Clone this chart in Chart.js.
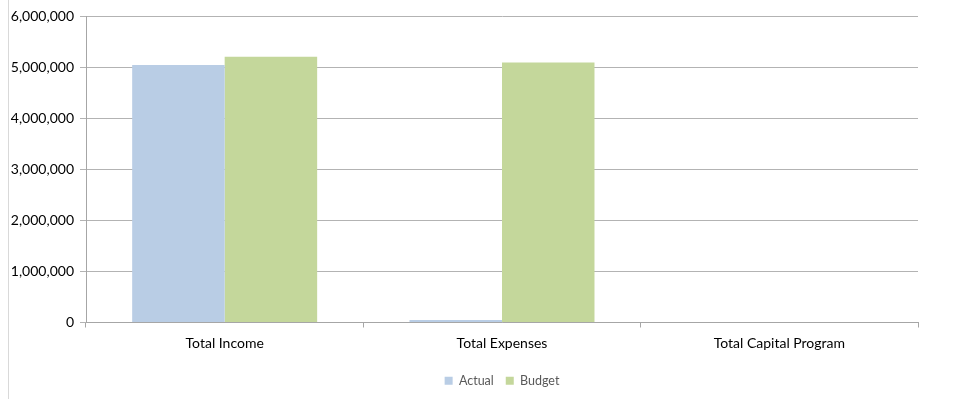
<!DOCTYPE html>
<html>
<head>
<meta charset="utf-8">
<script src="https://cdn.jsdelivr.net/npm/chart.js@4"></script>
<style>
  html, body { margin: 0; padding: 0; background: #fff; }
  #wrap { width: 979px; height: 399px; position: relative; }
</style>
</head>
<body>
<div id="wrap"><canvas id="budgetChart"></canvas></div>
<script>
const categories = ["Total Income", "Total Expenses", "Total Capital Program"];
const actual = [5040000, 50000, 0];
const budget = [5200000, 5090000, 0];

const blue = "#b9cde5";
const green = "#c4d79b";

// thin grey rule down the left edge of the sheet
const edgeLine = {
  id: "edgeLine",
  beforeDraw(chart) {
    const ctx = chart.ctx;
    ctx.save();
    ctx.strokeStyle = "#d9d9d9";
    ctx.lineWidth = 1;
    ctx.beginPath();
    ctx.moveTo(8.5, 0);
    ctx.lineTo(8.5, chart.height);
    ctx.stroke();
    ctx.restore();
  },
};

// centre the legend under the plot area instead of the whole canvas
const legendUnderPlot = {
  id: "legendUnderPlot",
  afterLayout(chart) {
    const lg = chart.legend;
    if (!lg) return;
    const shift = (chart.chartArea.left + chart.chartArea.right) / 2 - (lg.left + lg.right) / 2;
    lg.left += shift;
    lg.right += shift;
  },
};

Chart.defaults.font.family = "Lato, 'Open Sans', sans-serif";

new Chart(document.getElementById("budgetChart"), {
  type: "bar",
  data: {
    labels: categories,
    datasets: [
      { label: "Actual", data: actual, backgroundColor: blue, categoryPercentage: 0.667, barPercentage: 1 },
      { label: "Budget", data: budget, backgroundColor: green, categoryPercentage: 0.667, barPercentage: 1 },
    ],
  },
  options: {
    responsive: true,
    maintainAspectRatio: false,
    animation: false,
    layout: { padding: { left: 10, right: 61, top: 16, bottom: 2 } },
    scales: {
      x: {
        afterFit(scale) { scale.height = 40; },
        grid: { offset: true, drawOnChartArea: false, drawTicks: true, tickLength: 5, color: "#a6a6a6" },
        border: { color: "#a6a6a6" },
        ticks: { color: "#000", font: { size: 14 }, padding: 8 },
      },
      y: {
        min: 0,
        max: 6000000,
        afterFit(scale) { scale.width = 76; },
        grid: { color: "#b3b3b3", tickLength: 6 },
        border: { color: "#a6a6a6" },
        ticks: {
          stepSize: 1000000,
          color: "#000",
          font: { size: 14 },
          padding: 6,
          callback: (v) => v.toLocaleString("en-US"),
        },
      },
    },
    plugins: {
      legend: {
        position: "bottom",
        labels: { boxWidth: 8, boxHeight: 8, color: "#595959", font: { size: 12.5 }, padding: 12 },
      },
      tooltip: { enabled: false },
    },
  },
  plugins: [edgeLine, legendUnderPlot],
});
</script>
</body>
</html>
